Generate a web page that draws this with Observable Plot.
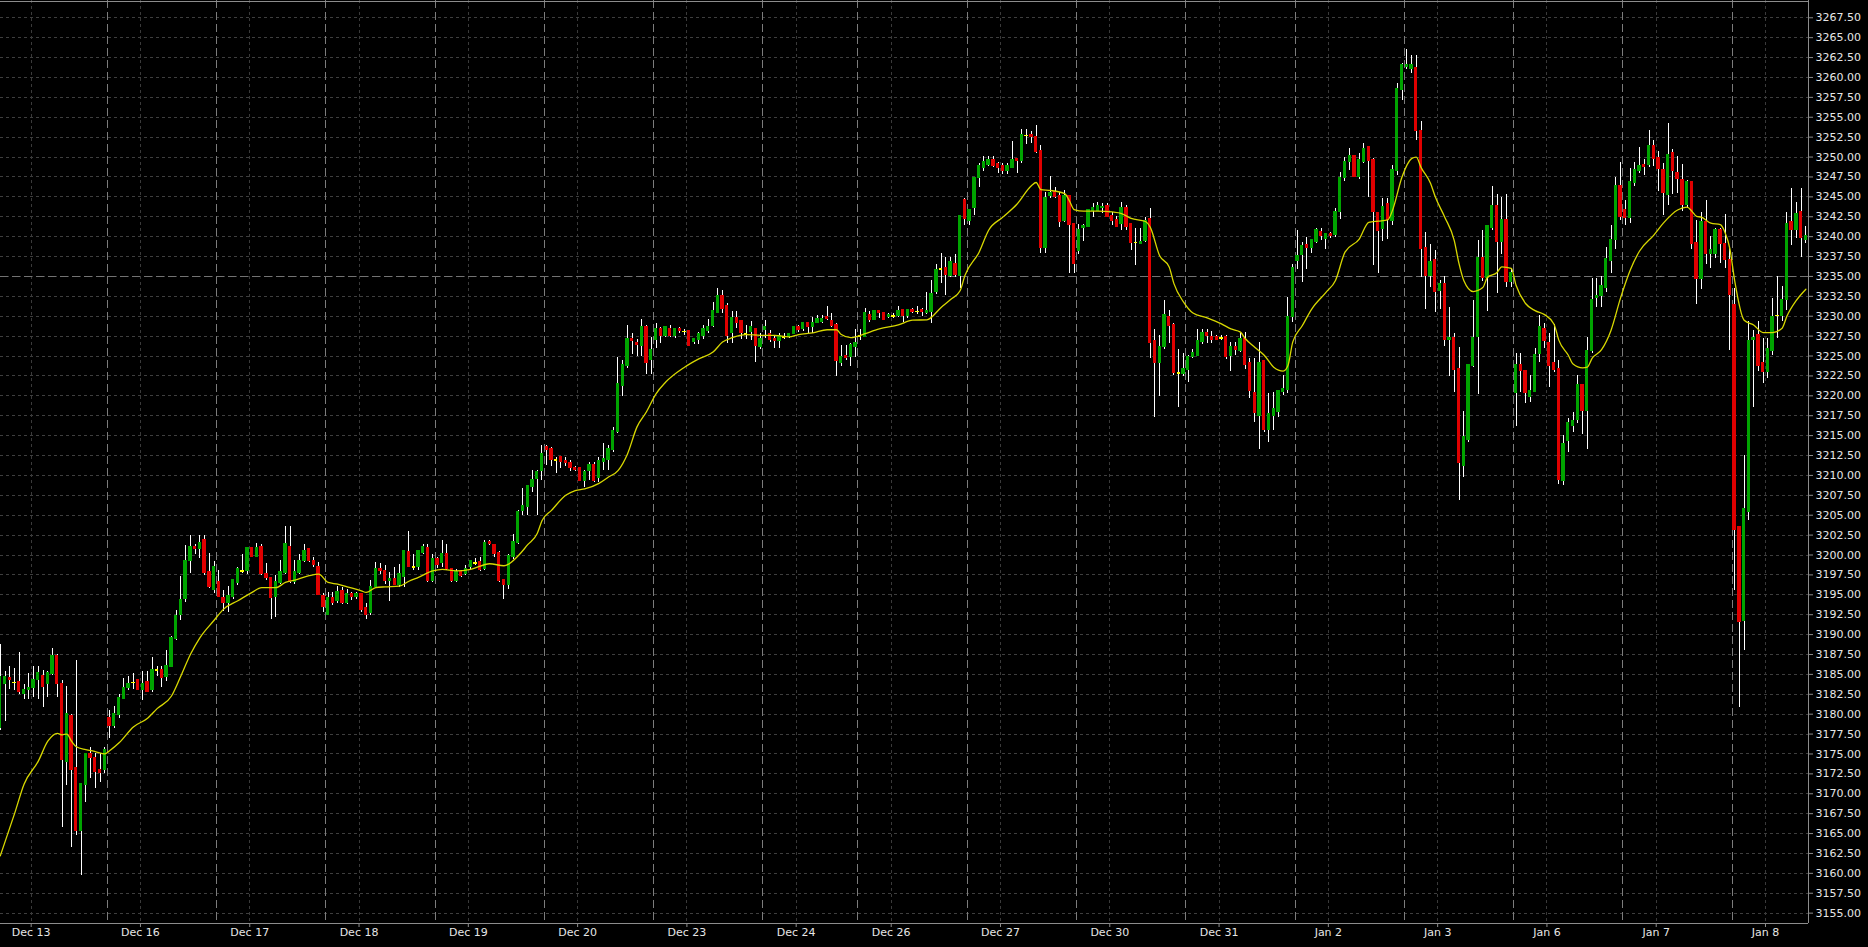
<!DOCTYPE html>
<html><head><meta charset="utf-8">
<script src="https://cdn.jsdelivr.net/npm/d3@7"></script>
<script src="https://cdn.jsdelivr.net/npm/@observablehq/plot@0.6"></script>
<style>html,body{margin:0;padding:0;background:#000;overflow:hidden}svg{display:block}</style>
</head><body><div id="chart"></div>
<script>
// Sessions (hourly bars, session opens 17:00 the evening before; date label at midnight)
const sessionLabels = ["Dec 13","Dec 16","Dec 17","Dec 18","Dec 19","Dec 20","Dec 23","Dec 24","Dec 26","Dec 27","Dec 30","Dec 31","Jan 2","Jan 3","Jan 6","Jan 7","Jan 8"];
const sessionBars   = [23,23,23,23,23,23,23,20,23,23,23,23,23,23,23,23,16];
const midnightOffset = 7;
const priceLine = 3235;

const opens = [
3178.3,3183.8,3184.5,3183.9,3184.0,3182.6,3183.05,3183.3,3184.3,3184.8,
3183.8,3185.1,3187.3,3183.8,3174.0,3179.7,3173.25,3165.4,3171.2,3174.9,
3174.5,3173.0,3173.0,3179.45,3178.5,3179.95,3181.96,3183.3,3183.9,3184.22,
3183.05,3184.01,3183.09,3185.48,3185.48,3184.77,3186.02,3189.5,3192.5,3194.5,
3199.3,3201.0,3200.8,3201.8,3197.8,3195.7,3196.55,3194.5,3194.05,3194.8,
3196.55,3197.9,3198.0,3200.8,3199.8,3201.0,3197.6,3197.1,3194.8,3196.55,
3197.8,3201.0,3196.6,3197.8,3199.27,3200.7,3199.27,3198.5,3194.75,3192.5,
3194.5,3194.25,3195.5,3194.0,3195.0,3194.8,3195.0,3193.25,3192.8,3196.0,
3198.23,3198.0,3196.76,3197.0,3196.26,3197.3,3200.3,3198.4,3198.5,3200.3,
3200.8,3196.76,3199.5,3199.07,3200.1,3198.23,3196.76,3197.8,3197.6,3198.5,
3198.94,3199.07,3198.23,3201.58,3201.16,3200.24,3196.76,3196.26,3199.78,3201.58,
3205.6,3206.1,3208.6,3209.6,3210.6,3213.55,3213.26,3211.9,3212.26,3211.75,
3211.54,3210.92,3210.92,3209.37,3210.62,3211.25,3209.66,3211.75,3211.97,3213.26,
3215.52,3221.3,3223.82,3227.04,3226.62,3226.33,3228.63,3224.5,3227.04,3228.34,
3227.58,3228.34,3227.58,3228.34,3228.0,3228.09,3226.83,3227.04,3227.58,3228.13,
3228.84,3230.4,3232.5,3231.27,3227.88,3229.68,3229.34,3227.7,3228.09,3228.34,
3226.12,3228.34,3227.79,3227.08,3226.87,3227.3,3227.37,3227.79,3228.55,3228.42,
3229.05,3228.63,3229.13,3229.34,3229.89,3229.34,3228.84,3224.1,3225.0,3224.86,
3226.12,3227.46,3227.37,3230.1,3229.59,3230.6,3230.31,3230.0,3229.97,3230.1,
3230.73,3230.1,3230.73,3230.52,3230.73,3230.39,3230.6,3233.03,3235.87,3236.0,
3235.04,3236.5,3235.04,3244.54,3242.03,3243.58,3247.35,3248.65,3249.07,3249.57,
3249.07,3248.86,3248.31,3248.6,3249.78,3249.57,3252.63,3252.71,3252.5,3250.7,
3238.55,3245.2,3245.59,3245.04,3242.03,3245.04,3241.53,3238.26,3241.1,3241.28,
3243.29,3243.29,3243.6,3243.79,3242.53,3242.03,3241.6,3243.5,3241.6,3239.2,
3239.1,3239.5,3242.24,3226.83,3224.1,3226.12,3229.89,3228.84,3222.77,3222.77,
3223.27,3224.86,3225.07,3226.83,3227.8,3227.3,3227.3,3227.2,3227.3,3225.07,
3226.12,3225.61,3227.08,3224.1,3220.34,3217.53,3224.32,3215.73,3217.53,3218.04,
3220.55,3220.8,3229.89,3237.0,3237.76,3238.97,3238.55,3239.31,3240.56,3239.73,
3240.27,3240.27,3243.08,3247.35,3249.36,3250.07,3247.56,3249.36,3251.24,3249.57,
3242.87,3240.98,3244.04,3242.03,3248.31,3258.45,3261.3,3261.1,3261.2,3253.25,
3238.5,3235.1,3237.0,3233.24,3233.99,3227.08,3227.29,3223.32,3211.26,3214.52,
3223.82,3227.38,3237.3,3234.79,3241.07,3243.79,3239.31,3242.03,3234.29,3220.34,
3223.82,3223.1,3219.9,3220.55,3225.28,3228.34,3226.62,3224.03,3223.28,3209.37,
3214.31,3216.28,3217.0,3221.3,3218.08,3225.61,3232.28,3232.52,3233.6,3237.0,
3239.57,3246.33,3243.35,3242.35,3246.82,3248.31,3249.0,3249.0,3251.39,3249.8,
3248.31,3245.33,3250.5,3248.0,3247.07,3244.04,3246.82,3239.22,3234.75,3241.86,
3237.88,3237.88,3240.81,3239.07,3237.09,3231.42,3203.45,3191.77,3205.44,3227.05,
3227.55,3224.07,3223.08,3225.66,3230.03,3230.03,3232.02,3241.81,3240.86,3243.05,3239.57];

const highs = [
3188.8,3185.3,3186.0,3185.7,3187.8,3183.7,3185.1,3186.0,3186.0,3185.5,
3185.3,3188.3,3187.5,3184.2,3183.5,3180.0,3186.7,3171.3,3175.1,3175.8,
3175.0,3175.0,3175.8,3180.45,3181.0,3182.46,3184.47,3184.77,3185.06,3184.3,
3185.31,3185.31,3187.07,3186.02,3186.02,3187.99,3189.79,3193.0,3197.25,3201.2,
3202.5,3201.3,3202.5,3202.5,3200.2,3199.2,3198.0,3195.5,3196.0,3196.8,
3198.44,3200.1,3201.0,3201.0,3201.4,3201.3,3198.9,3197.1,3197.4,3199.3,
3203.55,3203.55,3199.3,3200.1,3201.3,3200.7,3199.7,3199.07,3195.1,3195.3,
3195.3,3196.1,3195.9,3195.7,3195.3,3195.3,3195.1,3193.9,3196.8,3199.07,
3198.94,3198.65,3197.8,3198.44,3198.86,3200.5,3203.0,3200.1,3200.5,3201.3,
3201.3,3200.1,3199.7,3201.8,3201.3,3198.23,3198.23,3198.0,3198.65,3199.27,
3199.5,3199.7,3201.8,3201.8,3201.37,3200.41,3196.97,3200.11,3202.62,3205.6,
3208.3,3208.7,3210.6,3210.6,3213.8,3213.76,3213.55,3212.3,3212.3,3212.26,
3211.9,3211.13,3210.92,3210.62,3211.67,3211.67,3212.3,3213.97,3213.76,3216.07,
3224.86,3224.44,3228.84,3227.88,3227.04,3229.55,3228.84,3227.37,3229.05,3228.63,
3228.63,3228.84,3228.5,3228.55,3228.3,3228.09,3227.04,3228.0,3228.84,3229.59,
3231.77,3233.5,3233.2,3231.56,3230.6,3230.6,3229.34,3228.84,3229.38,3228.34,
3227.88,3229.47,3228.21,3227.58,3227.79,3227.79,3227.88,3228.71,3228.84,3229.13,
3229.26,3229.8,3230.1,3230.1,3231.23,3230.31,3229.05,3226.33,3226.33,3226.54,
3228.34,3228.34,3230.93,3230.6,3230.6,3230.6,3230.31,3230.39,3230.31,3231.23,
3230.73,3230.73,3231.02,3231.23,3231.02,3232.95,3234.5,3236.5,3237.93,3237.43,
3237.35,3237.76,3242.53,3244.75,3243.37,3247.35,3249.15,3250.11,3250.11,3250.11,
3249.36,3249.15,3249.23,3251.96,3249.78,3253.46,3253.46,3253.21,3253.97,3251.45,
3245.59,3247.5,3246.22,3245.59,3245.8,3245.04,3241.6,3241.53,3241.53,3243.29,
3244.13,3244.34,3244.13,3244.13,3243.08,3242.53,3244.34,3243.92,3241.6,3241.0,
3241.0,3242.45,3243.5,3228.3,3227.58,3231.98,3230.73,3229.13,3225.78,3225.36,
3225.07,3225.78,3228.3,3228.3,3228.3,3228.09,3227.58,3227.58,3227.58,3226.75,
3226.75,3228.0,3228.0,3224.65,3224.65,3226.75,3224.32,3220.25,3220.46,3220.55,
3222.56,3232.4,3236.5,3240.77,3239.31,3239.94,3239.52,3240.98,3240.98,3240.27,
3240.56,3243.5,3248.0,3249.99,3251.03,3250.07,3250.49,3251.66,3251.24,3249.86,
3243.08,3244.75,3244.75,3248.94,3259.2,3261.71,3263.51,3262.76,3262.76,3254.51,
3240.5,3239.0,3238.27,3234.5,3235.04,3231.06,3227.79,3226.12,3218.04,3223.82,
3231.98,3239.52,3240.78,3241.28,3246.3,3245.3,3244.97,3245.3,3235.96,3225.28,
3225.28,3223.1,3222.56,3225.91,3230.1,3229.13,3227.79,3228.97,3224.45,3215.03,
3217.12,3217.95,3222.56,3221.3,3227.29,3234.7,3234.7,3234.99,3238.6,3241.46,
3247.42,3249.3,3244.54,3248.51,3249.3,3251.15,3249.65,3253.28,3252.14,3250.65,
3249.16,3254.27,3251.0,3250.05,3249.06,3247.02,3246.82,3242.05,3243.05,3244.54,
3239.97,3241.06,3241.06,3242.8,3238.73,3233.51,3203.45,3212.5,3229.29,3228.15,
3229.29,3227.15,3227.15,3232.27,3235.0,3233.76,3243.05,3246.08,3244.29,3246.08,3241.31];

const lows = [
3177.9,3179.1,3183.1,3183.0,3182.5,3181.9,3181.9,3182.1,3181.9,3180.9,
3182.1,3184.8,3182.1,3165.7,3171.0,3163.2,3164.7,3159.7,3168.9,3171.9,
3170.7,3171.45,3172.5,3176.9,3178.15,3179.5,3181.9,3182.97,3183.09,3182.97,
3181.71,3182.67,3182.67,3184.77,3183.38,3184.14,3185.81,3189.3,3191.75,3194.0,
3197.7,3200.1,3199.5,3197.4,3195.8,3195.2,3194.67,3192.9,3192.8,3194.46,
3196.13,3197.7,3197.6,3199.7,3199.7,3197.4,3196.85,3191.95,3192.2,3196.3,
3197.6,3196.43,3196.3,3197.6,3199.1,3199.1,3198.44,3194.9,3192.8,3192.37,
3193.6,3193.9,3193.8,3193.8,3194.25,3194.46,3192.8,3191.95,3192.4,3195.9,
3197.6,3196.34,3194.2,3196.13,3195.9,3195.9,3198.44,3198.0,3198.0,3200.1,
3196.55,3196.55,3198.35,3198.44,3198.0,3196.55,3196.55,3197.2,3197.4,3198.23,
3198.65,3197.93,3198.0,3201.16,3199.69,3196.55,3194.46,3195.72,3199.48,3201.3,
3205.0,3205.0,3207.9,3205.0,3209.4,3211.25,3211.17,3210.3,3210.83,3211.17,
3210.54,3210.54,3209.37,3208.53,3209.37,3209.16,3209.16,3210.62,3210.62,3212.93,
3215.23,3219.92,3223.4,3225.2,3224.95,3224.95,3222.68,3222.68,3225.99,3226.54,
3227.37,3227.29,3227.16,3227.79,3227.58,3226.33,3226.45,3226.45,3227.04,3227.79,
3228.63,3230.3,3230.31,3226.54,3226.62,3228.42,3227.04,3227.04,3226.96,3224.23,
3225.78,3227.16,3226.75,3225.99,3225.91,3227.04,3227.25,3227.67,3228.0,3228.13,
3227.79,3227.79,3229.05,3229.05,3229.47,3228.63,3222.43,3223.69,3224.4,3223.69,
3224.86,3226.96,3227.37,3229.26,3229.59,3229.68,3229.59,3229.68,3229.68,3229.89,
3229.22,3229.68,3230.31,3230.22,3229.97,3230.22,3229.05,3232.73,3234.08,3232.6,
3234.92,3234.92,3233.45,3241.4,3241.4,3242.66,3246.13,3248.23,3248.86,3248.73,
3247.98,3247.77,3247.77,3248.52,3247.98,3249.15,3251.58,3251.66,3250.4,3237.93,
3237.93,3244.75,3244.75,3241.2,3241.82,3235.4,3235.4,3237.76,3239.39,3241.2,
3242.45,3243.2,3242.87,3242.45,3241.4,3241.2,3240.77,3240.77,3238.2,3236.4,
3239.1,3239.3,3224.74,3217.24,3219.96,3225.78,3226.54,3222.56,3218.5,3222.47,
3221.72,3224.65,3225.07,3226.41,3226.54,3226.54,3226.96,3226.96,3224.53,3223.0,
3225.07,3225.49,3223.27,3219.63,3216.7,3213.22,3215.44,3214.18,3215.65,3217.32,
3220.05,3220.25,3229.26,3235.84,3234.28,3235.84,3237.84,3239.1,3239.52,3238.39,
3239.73,3239.85,3242.1,3246.97,3248.31,3247.47,3247.18,3249.15,3244.96,3236.38,
3235.4,3239.43,3239.64,3241.4,3247.68,3257.11,3260.96,3260.46,3252.08,3234.91,
3230.9,3233.66,3230.52,3230.85,3226.25,3222.48,3220.38,3206.86,3209.79,3214.19,
3223.61,3220.18,3234.41,3230.64,3240.78,3232.9,3237.76,3233.66,3233.66,3216.2,
3220.38,3219.0,3219.2,3220.55,3224.24,3225.91,3221.02,3222.98,3208.83,3208.74,
3212.93,3215.44,3216.57,3215.15,3213.22,3225.28,3231.14,3231.14,3233.0,3235.4,
3238.38,3242.0,3241.46,3241.7,3246.33,3247.92,3247.67,3248.66,3248.81,3245.68,
3242.7,3243.94,3245.33,3245.43,3243.2,3243.54,3238.38,3231.42,3233.41,3236.49,
3236.0,3237.24,3236.59,3236.0,3225.7,3195.5,3180.85,3188.05,3204.3,3218.5,
3223.08,3221.49,3222.23,3225.06,3227.15,3229.29,3230.78,3238.87,3239.72,3237.38,3239.12];

const closes = [
3184.6,3184.6,3184.3,3183.9,3182.8,3183.0,3183.3,3184.3,3185.1,3183.5,
3185.1,3187.3,3183.8,3174.3,3180.0,3173.0,3165.4,3171.2,3174.9,3174.5,
3172.75,3172.7,3175.4,3178.5,3179.95,3181.96,3183.22,3183.8,3183.9,3183.09,
3183.8,3182.8,3185.48,3185.48,3184.56,3186.02,3189.5,3192.3,3194.25,3199.2,
3201.0,3200.8,3201.5,3197.8,3196.0,3198.5,3194.8,3194.05,3194.75,3196.76,
3198.23,3197.9,3200.8,3199.8,3200.8,3197.6,3197.1,3194.6,3196.55,3197.8,
3201.3,3196.64,3197.8,3199.27,3200.5,3199.27,3198.77,3195.0,3193.5,3194.5,
3194.0,3195.3,3194.05,3195.0,3194.8,3195.0,3193.1,3192.5,3196.0,3198.23,
3198.02,3196.76,3197.0,3196.26,3197.6,3200.5,3198.5,3198.4,3200.5,3201.0,
3196.76,3199.5,3198.77,3200.1,3198.23,3196.76,3197.8,3197.4,3198.23,3199.27,
3198.94,3198.1,3201.49,3201.37,3200.11,3196.76,3196.26,3199.78,3201.58,3205.4,
3206.1,3208.6,3209.4,3210.4,3212.7,3213.26,3212.0,3211.9,3211.75,3211.54,
3210.92,3210.71,3209.37,3210.41,3211.25,3209.37,3211.75,3211.97,3213.26,3215.52,
3221.51,3223.82,3227.04,3226.87,3226.41,3228.63,3224.11,3225.7,3228.34,3227.58,
3228.63,3227.58,3228.34,3228.13,3228.0,3226.33,3227.04,3227.79,3228.34,3228.63,
3230.6,3232.5,3230.93,3227.58,3229.8,3229.22,3227.88,3227.7,3228.55,3226.33,
3227.08,3228.63,3227.04,3226.87,3227.46,3227.3,3227.79,3228.55,3228.3,3229.13,
3228.63,3229.13,3229.59,3229.59,3229.68,3228.84,3224.36,3224.86,3224.8,3226.33,
3226.62,3227.46,3230.31,3229.55,3230.6,3230.4,3229.59,3230.1,3229.97,3230.6,
3230.1,3230.73,3230.52,3230.52,3230.52,3230.6,3232.73,3235.75,3235.87,3235.25,
3236.75,3235.25,3242.53,3242.24,3243.37,3247.35,3248.86,3249.36,3249.57,3248.86,
3248.6,3248.31,3248.86,3249.57,3249.57,3252.71,3252.63,3252.5,3250.7,3238.55,
3244.84,3245.4,3245.04,3241.82,3245.04,3241.53,3236.6,3240.77,3241.3,3243.29,
3243.5,3243.79,3243.7,3242.53,3242.03,3241.28,3243.5,3241.28,3239.3,3239.2,
3239.3,3241.95,3226.62,3224.1,3226.12,3230.1,3228.84,3222.85,3222.77,3223.27,
3224.86,3225.36,3226.83,3227.88,3227.58,3227.08,3227.08,3227.2,3224.86,3226.12,
3225.82,3227.08,3223.9,3220.59,3217.83,3224.1,3215.73,3217.74,3218.28,3220.55,
3220.8,3229.89,3236.08,3237.5,3238.77,3238.55,3239.52,3240.77,3240.06,3240.27,
3240.06,3243.08,3247.35,3249.36,3250.07,3247.56,3249.57,3251.03,3249.57,3243.08,
3240.77,3243.71,3242.1,3248.31,3258.45,3261.5,3261.5,3261.5,3253.25,3238.5,
3235.1,3236.75,3233.03,3233.99,3227.08,3227.29,3223.32,3211.55,3214.73,3223.82,
3227.29,3237.3,3234.79,3241.28,3243.79,3239.31,3242.03,3234.29,3235.4,3223.82,
3223.1,3220.34,3220.55,3225.07,3228.55,3226.87,3223.82,3223.28,3209.45,3213.97,
3216.57,3216.83,3221.3,3218.08,3225.61,3231.98,3232.52,3233.74,3237.1,3239.57,
3246.33,3242.55,3242.35,3246.82,3248.31,3248.81,3248.81,3251.39,3249.8,3248.51,
3245.53,3250.25,3248.31,3247.32,3244.04,3246.82,3239.07,3234.75,3241.86,3237.88,
3238.33,3240.81,3239.07,3237.09,3232.76,3203.2,3191.67,3205.69,3226.9,3227.25,
3223.82,3223.08,3225.81,3229.88,3230.03,3232.02,3241.56,3240.86,3242.8,3239.82,3240.07];

// Moving-average line (bar index, value)
const maBar = [0,3,5,8,10,12,13,14,15,16,18,20,22,23,25,28,31,33,36,38,40,42,45,47,50,53,55,58,60,62,65,67,69,71,73,76,77,79,81,84,86,88,91,93,96,99,103,106,107,109,111,113,114,116,119,121,123,126,128,130,132,134,136,138,140,144,147,150,152,154,157,160,163,166,168,171,174,176,177,179,180,182,185,189,192,195,198,200,202,203,206,208,211,214,217,218,219,221,224,225,226,228,231,234,236,238,241,242,244,246,247,249,251,254,257,259,261,262,264,266,268,270,271,272,274,276,279,281,283,286,288,290,292,293,295,297,298,299,301,302,304,306,307,308,310,312,313,315,316,318,319,321,323,325,327,328,330,331,333,334,335,337,339,341,343,345,348,350,353,355,356,357,358,360,362,363,364,365,367,369,371,373,375,376,378,380];
const maValue = [3162.2,3167.5,3171.2,3174.1,3176.6,3177.6,3177.4,3177.5,3176.6,3175.9,3175.55,3175.3,3175.0,3175.4,3176.4,3178.4,3179.5,3180.7,3182.25,3184.8,3187.5,3189.6,3191.8,3193.2,3194.25,3195.3,3195.9,3195.9,3196.55,3196.85,3197.4,3197.6,3196.55,3196.34,3196.0,3195.5,3195.3,3195.9,3196.0,3196.1,3196.7,3197.2,3198.0,3198.2,3198.0,3198.2,3198.9,3198.65,3198.86,3199.9,3201.3,3202.7,3204.3,3205.6,3207.5,3208.1,3208.3,3209.0,3209.8,3210.6,3212.7,3216.1,3218.0,3220.25,3221.7,3223.6,3224.65,3225.5,3226.75,3227.3,3227.7,3227.6,3227.6,3227.4,3227.7,3227.9,3228.3,3228.3,3227.7,3227.3,3227.4,3227.8,3228.4,3228.9,3229.5,3229.55,3231.1,3232.1,3233.2,3235.1,3238.05,3240.8,3242.45,3244.1,3246.4,3246.8,3245.9,3245.8,3245.4,3244.5,3243.4,3243.2,3243.2,3243.1,3242.9,3242.3,3241.9,3241.2,3237.6,3236.2,3234.1,3231.8,3230.4,3229.8,3229.05,3228.4,3228.0,3227.2,3226.1,3225.1,3223.6,3223.1,3223.8,3226.75,3228.8,3230.9,3233.0,3234.5,3238.05,3239.7,3241.8,3241.95,3242.1,3243.3,3247.5,3249.8,3250.0,3248.7,3246.7,3245.0,3242.45,3239.5,3236.6,3234.5,3233.1,3233.6,3234.9,3235.5,3236.2,3236.0,3233.9,3231.6,3230.7,3230.2,3229.0,3227.0,3225.1,3224.0,3223.5,3223.6,3224.7,3225.8,3228.25,3232.3,3235.75,3238.2,3240.2,3241.7,3243.35,3243.7,3243.2,3242.55,3242.45,3241.7,3241.5,3240.5,3238.5,3234.5,3229.5,3228.9,3227.95,3227.95,3228.5,3230.0,3232.0,3233.4];

const n = Math.min(opens.length, highs.length, lows.length, closes.length);
const bars = d3.range(n).map(i => ({i, o: opens[i], h: highs[i], l: lows[i], c: closes[i]}));
const starts = []; let acc = 0;
for (const k of sessionBars) { starts.push(acc); acc += k; }
const tickPos = starts.map(s => s + midnightOffset);
const labelAt = new Map(tickPos.map((t, k) => [t, sessionLabels[k]]));
const separators = starts.slice(1);
const candleColor = d => d.c > d.o ? "#00a400" : d.c < d.o ? "#e00000" : "#ffff00";
const yTicks = d3.range(3155, 3267.51, 2.5);
const ma = maBar.map((b, k) => ({b, v: maValue[k]}));
const xDomain = [0.543, 381.05], yDomain = [3153.7, 3269.67];

const chart = Plot.plot({
  width: 1868, height: 947,
  marginLeft: 0, marginRight: 60, marginTop: 0, marginBottom: 24,
  style: {background: "#000", color: "#e6e6e6", fontFamily: "DejaVu Sans", fontSize: "11px"},
  x: {type: "linear", domain: xDomain, axis: null},
  y: {domain: yDomain, axis: null},
  color: {type: "identity"},
  marks: [
    Plot.ruleY(yTicks, {stroke: "#3e3e3e", strokeDasharray: "3,3", shapeRendering: "crispEdges"}),
    Plot.ruleX(tickPos, {stroke: "#3a3a3a", strokeDasharray: "3,3", shapeRendering: "crispEdges"}),
    Plot.ruleX(separators, {stroke: "#7c7c7c", strokeDasharray: "8,4", shapeRendering: "crispEdges"}),
    Plot.ruleY([priceLine], {stroke: "#727272", strokeDasharray: "8,4", shapeRendering: "crispEdges"}),
    Plot.ruleX(bars, {x: d => d.i + 0.5, y1: "l", y2: "h", stroke: "#ffffff", strokeWidth: 1, shapeRendering: "crispEdges"}),
    Plot.rect(bars, {x1: d => d.i + 0.15, x2: d => d.i + 0.85, y1: "o", y2: "c", fill: candleColor, insetTop: -0.8, insetBottom: -0.8, shapeRendering: "crispEdges"}),
    Plot.line(ma, {x: d => d.b + 0.5, y: "v", stroke: "#d8d800", strokeWidth: 1.3, curve: "monotone-x"}),
    Plot.ruleX([xDomain[1]], {stroke: "#8c8c8c", shapeRendering: "crispEdges"}),
    Plot.ruleY([yDomain[0]], {stroke: "#8c8c8c", shapeRendering: "crispEdges"}),
    Plot.ruleY([yDomain[1]], {stroke: "#8c8c8c", dy: 0.5, shapeRendering: "crispEdges"}),
    Plot.axisY({anchor: "right", ticks: yTicks, tickFormat: d => d.toFixed(2), tickSize: 4, tickPadding: 3, stroke: "#8c8c8c", label: null}),
    Plot.axisX({anchor: "bottom", ticks: tickPos, tickFormat: d => labelAt.get(d), tickSize: 4, tickPadding: 1, stroke: "#8c8c8c", label: null})
  ]
});
document.getElementById("chart").appendChild(chart);
</script>
</body></html>
